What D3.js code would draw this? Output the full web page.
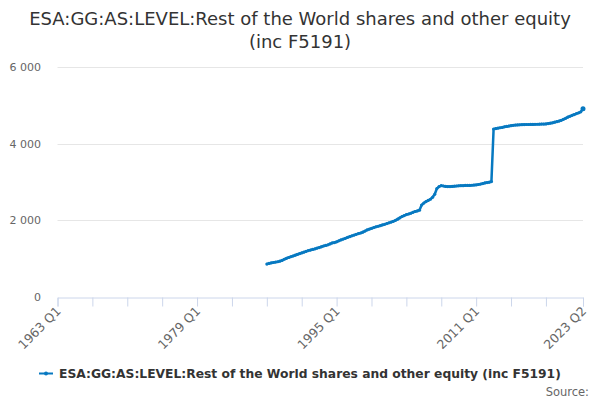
<!DOCTYPE html>
<html>
  <head>
    <title>ESA:GG:AS:LEVEL</title>
    <meta charset="utf-8">
    <script src="https://cdn.jsdelivr.net/npm/d3@7"></script>
    <style>
      html, body { margin: 0; padding: 0; background: #fff; }
      #chart { width: 600px; height: 400px; }
      text { font-family: "DejaVu Sans", Verdana, sans-serif; }
    </style>
  </head>
  <body>
    <div id="chart"></div>
    <script>
      // quarters from 1963 Q1 to 2023 Q2, data starts 1987 Q1
      var firstYear = 1963;
      var quarterCount = 242;
      var dataStart = 96;
      var values = [
        860, 875, 890, 900, 910, 920, 935, 955, 985, 1010, 1030, 1050,
        1070, 1090, 1110, 1130, 1150, 1170, 1190, 1210, 1225, 1240, 1255, 1275,
        1290, 1310, 1330, 1345, 1360, 1385, 1410, 1420, 1440, 1465, 1490, 1510,
        1530, 1555, 1575, 1595, 1615, 1635, 1655, 1670, 1690, 1720, 1750, 1770,
        1790, 1810, 1830, 1845, 1860, 1880, 1895, 1915, 1935, 1955, 1975, 2000,
        2030, 2065, 2100, 2125, 2150, 2165, 2185, 2210, 2230, 2245, 2265, 2400,
        2450, 2490, 2520, 2550, 2600, 2680, 2830, 2880, 2905, 2895, 2885, 2880,
        2880, 2885, 2890, 2895, 2900, 2905, 2905, 2910, 2910, 2910, 2915, 2920,
        2925, 2935, 2945, 2960, 2975, 2985, 2995, 3010, 4380, 4395, 4405, 4415,
        4425, 4440, 4450, 4460, 4470, 4478, 4485, 4490, 4492, 4495, 4497, 4500,
        4500, 4502, 4503, 4505, 4506, 4508, 4510, 4512, 4515, 4525, 4535, 4545,
        4560, 4575, 4590, 4610, 4635, 4660, 4690, 4715, 4740, 4760, 4785, 4805,
        4830, 4910
      ];
      var yTicks = [0, 2000, 4000, 6000];
      var labelIdx = [0, 64, 128, 192, 241];
      var tickIdx = d3.range(0, 225, 16).concat([241]);

      var seriesName = "ESA:GG:AS:LEVEL:Rest of the World shares and other equity (inc F5191)";
      var color = "#0779c1";

      function qLabel(i) {
        return (firstYear + Math.floor(i / 4)) + " Q" + (i % 4 + 1);
      }

      var svg = d3.select("#chart").append("svg")
        .attr("width", 600).attr("height", 400);

      var x = d3.scaleLinear().domain([0, quarterCount - 1]).range([57.5, 583]);
      var y = d3.scaleLinear().domain([0, 6000]).range([297, 67]);

      // title
      svg.append("text").attr("x", 300).attr("y", 25)
        .attr("text-anchor", "middle").attr("font-size", 18).attr("fill", "#333")
        .text("ESA:GG:AS:LEVEL:Rest of the World shares and other equity");
      svg.append("text").attr("x", 300).attr("y", 48)
        .attr("text-anchor", "middle").attr("font-size", 18).attr("fill", "#333")
        .text("(inc F5191)");

      // grid
      svg.append("g").selectAll("line").data(yTicks.slice(1)).enter().append("line")
        .attr("x1", x(0)).attr("x2", x(quarterCount - 1))
        .attr("y1", function(d) { return Math.round(y(d)) + 0.5; })
        .attr("y2", function(d) { return Math.round(y(d)) + 0.5; })
        .attr("stroke", "#e6e6e6");

      // y labels
      svg.append("g").selectAll("text").data(yTicks).enter().append("text")
        .attr("x", 41).attr("y", function(d) { return y(d) + 4; })
        .attr("text-anchor", "end").attr("font-size", 11).attr("fill", "#666")
        .text(function(d) { return d3.format(",")(d).replace(/,/g, " "); });

      // x axis
      var xAxis = d3.axisBottom(x).tickValues(tickIdx).tickSize(9).tickFormat("");
      var gx = svg.append("g").attr("transform", "translate(0," + 297.5 + ")").call(xAxis);
      gx.select(".domain").attr("stroke", "#ccd6eb");
      gx.selectAll(".tick line").attr("stroke", "#ccd6eb");

      svg.append("g").selectAll("text").data(labelIdx).enter().append("text")
        .attr("transform", function(d) { return "translate(" + (x(d) + 4) + ",312) rotate(-45)"; })
        .attr("text-anchor", "end").attr("font-size", 12.5).attr("fill", "#666")
        .text(qLabel);

      // series
      var pts = values.map(function(v, k) { return [dataStart + k, v]; });
      var line = d3.line().x(function(d) { return x(d[0]); }).y(function(d) { return y(d[1]); });
      svg.append("path").datum(pts).attr("d", line)
        .attr("fill", "none").attr("stroke", color).attr("stroke-width", 2.5)
        .attr("stroke-linejoin", "round");
      svg.append("g").selectAll("circle").data(pts).enter().append("circle")
        .attr("cx", function(d) { return x(d[0]); })
        .attr("cy", function(d) { return y(d[1]); })
        .attr("r", function(d, k) { return k === pts.length - 1 ? 2.5 : 1.6; })
        .attr("fill", color);

      // legend
      svg.append("line").attr("x1", 39).attr("x2", 53).attr("y1", 373.5).attr("y2", 373.5)
        .attr("stroke", color).attr("stroke-width", 2);
      svg.append("circle").attr("cx", 46).attr("cy", 373.5).attr("r", 2).attr("fill", color);
      svg.append("text").attr("x", 59).attr("y", 378)
        .attr("font-size", 12.3).attr("font-weight", "bold").attr("fill", "#333")
        .text(seriesName);

      svg.append("text").attr("x", 589).attr("y", 396)
        .attr("text-anchor", "end").attr("font-size", 11.5).attr("fill", "#666")
        .text("Source:");
    </script>
  </body>
</html>
